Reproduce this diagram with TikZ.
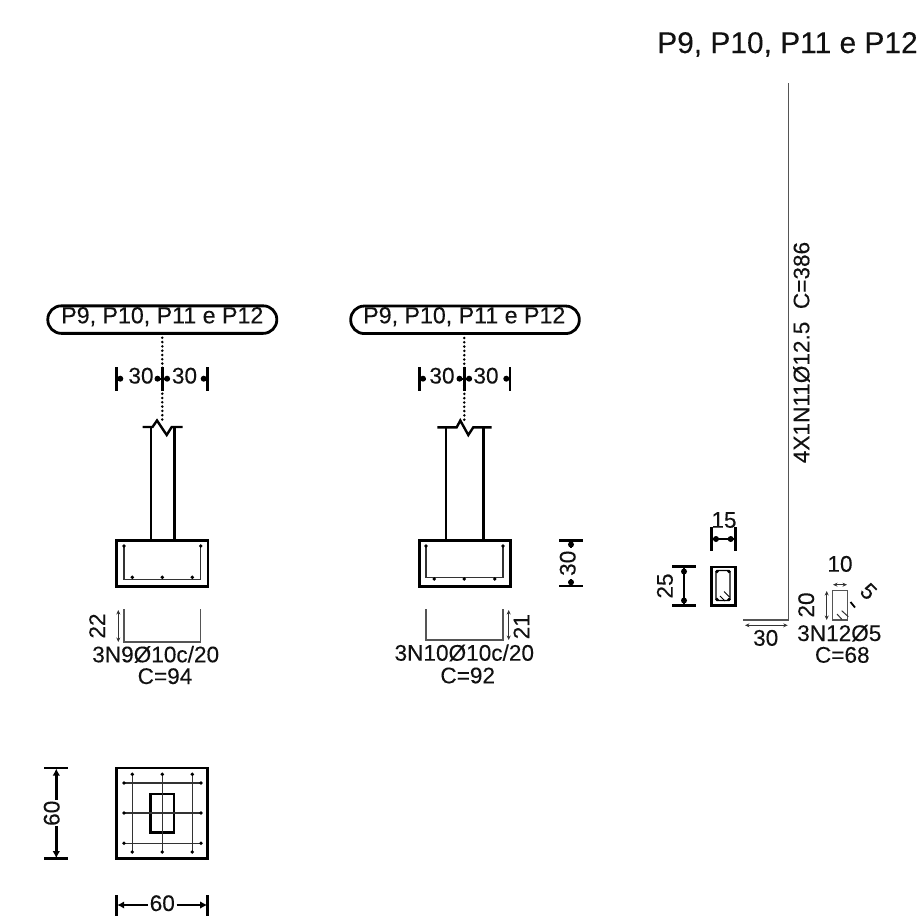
\documentclass[tikz,border=0pt]{standalone}
\usepackage{fontspec}
\setmainfont{Liberation Sans}
\newfontfamily\inkfont{Liberation Sans}[FakeBold=0.12]
\usetikzlibrary{arrows.meta,shapes.misc}
\definecolor{ink}{HTML}{111111}
\definecolor{bar}{HTML}{555555}
\tikzset{
  lab/.style={inner sep=0pt,anchor=base,text=ink,font=\inkfont\fontsize{22.6}{24}\selectfont},
  pilllab/.style={inner sep=0pt,anchor=base,text=ink,font=\inkfont\fontsize{23.2}{24}\selectfont},
  title/.style={inner sep=0pt,anchor=base,text=ink,font=\inkfont\fontsize{29.9}{32}\selectfont},
  heavy/.style={draw=black,line width=2.8pt,line join=miter},
  tick/.style={draw=black,line width=2.8pt},
  rebar/.style={draw=black!80,line width=1.1pt},
  barline/.style={draw=bar,line width=1.2pt},
  thin arrow/.style={draw=black!80,line width=.9pt,{Stealth[length=4.5pt,width=4pt]}-{Stealth[length=4.5pt,width=4pt]}},
  dimhead/.style={draw=black,line width=2.6pt,-{Latex[length=7pt,width=7.5pt]}},
  stub/.style={draw=black,line width=2.4pt},
  leader/.style={draw=black,line width=2.8pt,line cap=round,dash pattern=on 0pt off 4.3pt},
  pill/.style={draw=black,line width=2.8pt,rectangle,rounded corners=13.5pt,inner sep=0pt,minimum height=27.5pt},
  bardot/.style={circle,fill=black,inner sep=0pt,minimum size=3.8pt},
  knob/.style={circle,fill=black,inner sep=0pt,minimum size=6pt},
}
\begin{document}
\begin{tikzpicture}[x=1pt,y=-1pt]
\useasboundingbox (0,0) rectangle (922,916);

% title
\node[title] (ttl) at (787.5,53) {P9, P10, P11 e P12};

% ---------- left elevation
\node[pill,minimum width=229pt] (pa) at (162.3,319.6) {};
\node[pilllab] (pat) at (162.3,323.3) {P9, P10, P11 e P12};
\coordinate (pab) at (162.3,421.5);
\draw[leader] (pa.south) ++(0,3) -- (pab);
\draw[tick] (116.7,367) -- (116.7,390.5);
\draw[tick] (162.3,367) -- (162.3,390.5);
\draw[tick] (207.3,367) -- (207.3,390.5);
\draw[stub] (116.7,378.7) -- (123,378.7);
\draw[stub] (155,378.7) -- (169.5,378.7);
\draw[stub] (201,378.7) -- (207.3,378.7);
\foreach \px in {120.3,157.5,167.1,203.7}{\node[knob] at (\px,378.7) {};}
\node[lab] (pa1) at (141,383.5) {30};
\node[lab] (pa2) at (184.5,383.5) {30};
% break line + column
\draw[draw=black,line width=2.4pt,line join=miter] (142.7,427) -- (152.5,427) -- (157,420.5) -- (166.7,435) -- (171.7,427) -- (182.7,427);
\draw[heavy] (151,427) -- (151,541);
\draw[heavy] (174.2,427) -- (174.2,541);
% footing
\draw[heavy] (116.7,540.8) rectangle (208,586.7);
\draw[rebar] (124,546) -- (124,579.3) -- (200.7,579.3) -- (200.7,546);
\foreach \px/\py in {124/546,200.7/546,132.3/577.3,162.3/577.3,192.3/577.3}{\node[bardot] at (\px,\py) {};}
% bar shape
\draw[barline] (124,609.3) -- (124,642) -- (200.7,642) -- (200.7,609.3);
\draw[thin arrow] (118.3,610) -- (118.3,642);
\node[lab,rotate=90] (l22) at (105,626) {22};
\node[lab] (l3n9) at (155.7,662.3) {3N9Ø10c/20};
\node[lab] (lc94) at (165,684) {C=94};

% ---------- middle elevation
\node[pill,minimum width=228.6pt] (pb) at (465,319.8) {};
\node[pilllab] (pbt) at (464.3,323.3) {P9, P10, P11 e P12};
\coordinate (pbb) at (464.3,421.5);
\draw[leader] (pb.south) ++(-0.7,3) -- (pbb);
\draw[tick] (419.3,367) -- (419.3,390.5);
\draw[tick] (464.3,367) -- (464.3,390.5);
\draw[tick] (510,367) -- (510,390.5);
\draw[stub] (419.3,378.7) -- (426,378.7);
\draw[stub] (457,378.7) -- (471.5,378.7);
\draw[stub] (503.5,378.7) -- (510,378.7);
\foreach \px in {423,459.5,469.1,506.3}{\node[knob] at (\px,378.7) {};}
\node[lab] (pb1) at (442,383.5) {30};
\node[lab] (pb2) at (486,383.5) {30};
\draw[draw=black,line width=2.4pt,line join=miter] (437.3,427.3) -- (456.7,427.3) -- (460.3,420.5) -- (468.3,435) -- (473.3,427.3) -- (491.7,427.3);
\draw[heavy] (446,427.3) -- (446,541);
\draw[heavy] (483.3,427.3) -- (483.3,541);
\draw[heavy] (419.3,540.8) rectangle (510.3,586.2);
\draw[rebar] (426,546) -- (426,577.3) -- (503,577.3) -- (503,546);
\foreach \px/\py in {426/546,503/546,434.3/579,464.3/579,494.7/579}{\node[bardot] at (\px,\py) {};}
\draw[barline] (426,609.3) -- (426,640) -- (503,640) -- (503,609.3);
\draw[thin arrow] (508.7,610) -- (508.7,640);
\node[lab,rotate=90] (l21) at (529.3,626.7) {21};
\node[lab] (l3n10) at (464.3,660.7) {3N10Ø10c/20};
\node[lab] (lc92) at (467.7,683.3) {C=92};
% 30 vertical
\draw[tick] (559,540.8) -- (583,540.8);
\draw[tick] (559,586) -- (583,586);
\draw[stub] (571,541) -- (571,548);
\draw[stub] (571,579) -- (571,586);
\node[knob] at (571,544.5) {};
\node[knob] at (571,582.3) {};
\node[lab,rotate=90] (l30v) at (575.5,563.3) {30};

% ---------- plan
\draw[heavy] (116.7,768) rectangle (207.7,858.7);
\draw[heavy] (150.7,794) rectangle (174,832.3);
\foreach \px in {132.3,162.3,192.3}{
  \draw[rebar] (\px,774.3) -- (\px,852);
  \node[bardot] at (\px,774.3) {};
  \node[bardot] at (\px,852) {};
}
\foreach \py in {783,813,843.3}{
  \draw[rebar] (124,\py) -- (201,\py);
  \node[bardot] at (124,\py) {};
  \node[bardot] at (201,\py) {};
}
\draw[tick] (44,768) -- (68.3,768);
\draw[tick] (44,858.7) -- (68.3,858.7);
\draw[dimhead] (56.3,800) -- (56.3,768.5);
\draw[dimhead] (56.3,826) -- (56.3,858.2);
\node[lab,rotate=90] (l60v) at (59.5,813.3) {60};
\draw[tick] (116.7,895) -- (116.7,916);
\draw[tick] (207.7,895) -- (207.7,916);
\draw[dimhead] (148,905) -- (117.2,905);
\draw[dimhead] (176.7,905) -- (207.2,905);
\node[lab] (l60h) at (162.3,911) {60};

% ---------- long bar
\coordinate (ba) at (788.7,83.3);
\coordinate (bb) at (788.7,620);
\coordinate (bc) at (743.3,620);
\draw[barline] (ba) -- (bb) -- (bc);
\draw[thin arrow] (745,625.3) -- (787.7,625.3);
\node[lab] (l30h) at (765.7,645.7) {30};
\node[lab,rotate=90] (l386) at (809.3,352.5) {4X1N11Ø12.5~~C=386};

% ---------- column section
\draw[draw=black,line width=2.6pt] (711.5,566.8) rectangle (735.2,605.2);
\draw[draw=black,line width=1.3pt,rounded corners=2pt] (716,570.5) rectangle (730,600.5);
\foreach \px in {717,729}{\node[bardot] at (\px,571.5) {};}
\node[bardot] at (717,599.5) {};
\node[bardot] at (729,599.5) {};
\draw[draw=black,line width=1pt] (720,596) -- (725,601);
\draw[draw=black,line width=1pt] (724,591.5) -- (729.5,597);
\draw[tick] (711.5,527.3) -- (711.5,551);
\draw[tick] (735.2,527.3) -- (735.2,551);
\draw[stub] (711.5,539) -- (735.2,539);
\node[knob] at (716,539) {};
\node[knob] at (730.7,539) {};
\node[lab] (l15) at (724,527.7) {15};
\draw[tick] (672.3,566.8) -- (696,566.8);
\draw[tick] (672.3,605.2) -- (696,605.2);
\draw[stub] (684,566.8) -- (684,605.2);
\node[knob] at (684,571.5) {};
\node[knob] at (684,600.5) {};
\node[lab,rotate=90] (l25) at (672.7,586) {25};

% ---------- stirrup shape
\draw[barline] (832.7,590.7) rectangle (847.3,620);
\draw[draw=black!80,line width=1pt] (837,614) -- (842,619.5);
\draw[draw=black!80,line width=1pt] (841.7,610.7) -- (848.3,616.7);
\draw[thin arrow] (833,584.7) -- (847,584.7);
\draw[thin arrow] (826.7,591) -- (826.7,620);
\draw[draw=black,line width=1.8pt] (850.5,602) -- (855,607.5);
\node[lab] (l10) at (840,571.7) {10};
\node[lab,rotate=90] (l20) at (814,605) {20};
\node[lab,rotate=-45,anchor=center] (l5) at (868.5,591.5) {5};
\node[lab] (l3n12) at (839.3,641) {3N12Ø5};
\node[lab] (lc68) at (842.3,662.7) {C=68};
\end{tikzpicture}
\end{document}
